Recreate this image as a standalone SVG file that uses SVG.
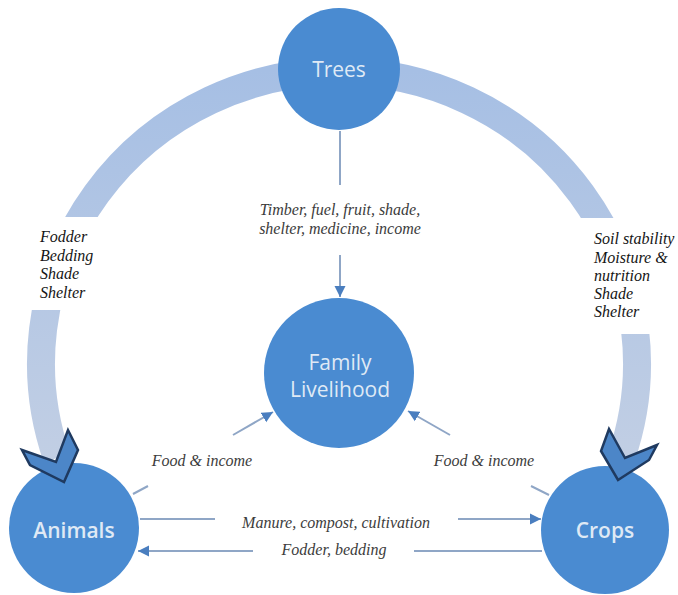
<svg xmlns="http://www.w3.org/2000/svg" width="678" height="595" viewBox="0 0 678 595">
<defs>
<style>
.node{fill:#4a8bd1;}
.nlabel{font-family:"Open Sans","Noto Sans",sans-serif;font-size:21px;fill:#dfe9f5;text-anchor:middle;}
.lab{font-family:"Liberation Serif",serif;font-style:italic;font-size:16px;fill:#3c3c3c;}
.box{font-family:"Liberation Serif",serif;font-style:italic;font-size:16px;fill:#151515;}
.conn{stroke:#8fa6c6;stroke-width:2;fill:none;}
.chev{fill:#4c86c8;stroke:#1f3a60;stroke-width:2.5;stroke-linejoin:miter;}
</style>
<linearGradient id="bandg" x1="0" y1="70" x2="0" y2="470" gradientUnits="userSpaceOnUse">
<stop offset="0" stop-color="#a6bfe4"/>
<stop offset="1" stop-color="#c2cfe4"/>
</linearGradient>
<marker id="ah" viewBox="0 0 10 10" refX="10" refY="5" markerWidth="11" markerHeight="12" markerUnits="userSpaceOnUse" orient="auto">
<path d="M0,0 L10,5 L0,10 z" fill="#4a7ebf"/>
</marker>
</defs>
<rect width="678" height="595" fill="#ffffff"/>

<g id="cycle-band">
<path d="M 57 458 A 298 292 0 1 1 621 458" stroke="url(#bandg)" stroke-width="28" fill="none"/>
</g>

<g id="box-left">
<rect x="20" y="217" width="102" height="93" fill="#ffffff"/>
<text class="box" x="40" y="242">Fodder</text>
<text class="box" x="40" y="261">Bedding</text>
<text class="box" x="40" y="279">Shade</text>
<text class="box" x="40" y="298">Shelter</text>
</g>

<g id="box-right">
<rect x="575" y="218" width="103" height="116" fill="#ffffff"/>
<text class="box" x="594" y="244">Soil stability</text>
<text class="box" x="594" y="263">Moisture &amp;</text>
<text class="box" x="594" y="281">nutrition</text>
<text class="box" x="594" y="299">Shade</text>
<text class="box" x="594" y="317">Shelter</text>
</g>

<g id="connectors">
<path class="conn" d="M340,131 L340,185"/>
<path class="conn" d="M340,255 L340,297" marker-end="url(#ah)"/>
<path class="conn" d="M133,494 L148,486"/>
<path class="conn" d="M233,435 L273,412" marker-end="url(#ah)"/>
<path class="conn" d="M549,495 L531,486"/>
<path class="conn" d="M450,435 L408,411" marker-end="url(#ah)"/>
<path class="conn" d="M140,519 L215,519"/>
<path class="conn" d="M458,519 L541,519" marker-end="url(#ah)"/>
<path class="conn" d="M542,551 L414,551"/>
<path class="conn" d="M253,551 L138,551" marker-end="url(#ah)"/>
</g>

<g id="labels">
<text class="lab" x="340" y="215" text-anchor="middle">Timber, fuel, fruit, shade,</text>
<text class="lab" x="340" y="234" text-anchor="middle">shelter, medicine, income</text>
<text class="lab" x="202" y="466" text-anchor="middle">Food &amp; income</text>
<text class="lab" x="484" y="466" text-anchor="middle">Food &amp; income</text>
<text class="lab" x="336" y="528" text-anchor="middle">Manure, compost, cultivation</text>
<text class="lab" x="334" y="555" text-anchor="middle">Fodder, bedding</text>
</g>

<g id="trees">
<circle class="node" cx="339" cy="69" r="61"/>
<text class="nlabel" x="339" y="77">Trees</text>
</g>

<g id="family-livelihood">
<circle class="node" cx="339" cy="373" r="75"/>
<text class="nlabel" x="340" y="370">Family</text>
<text class="nlabel" x="340" y="397">Livelihood</text>
</g>

<g id="animals">
<circle class="node" cx="74" cy="528" r="65"/>
<text class="nlabel" x="74" y="538" font-weight="600">Animals</text>
</g>

<g id="crops">
<circle class="node" cx="605" cy="530" r="64"/>
<text class="nlabel" x="605" y="538" font-weight="600">Crops</text>
</g>

<g id="chevrons">
<polygon class="chev" points="22,450 56,462 68,430 78,450 64,482 30,465"/>
<polygon class="chev" points="657,445 625,458 609,429 601,451 618,480 649,460"/>
</g>
</svg>
